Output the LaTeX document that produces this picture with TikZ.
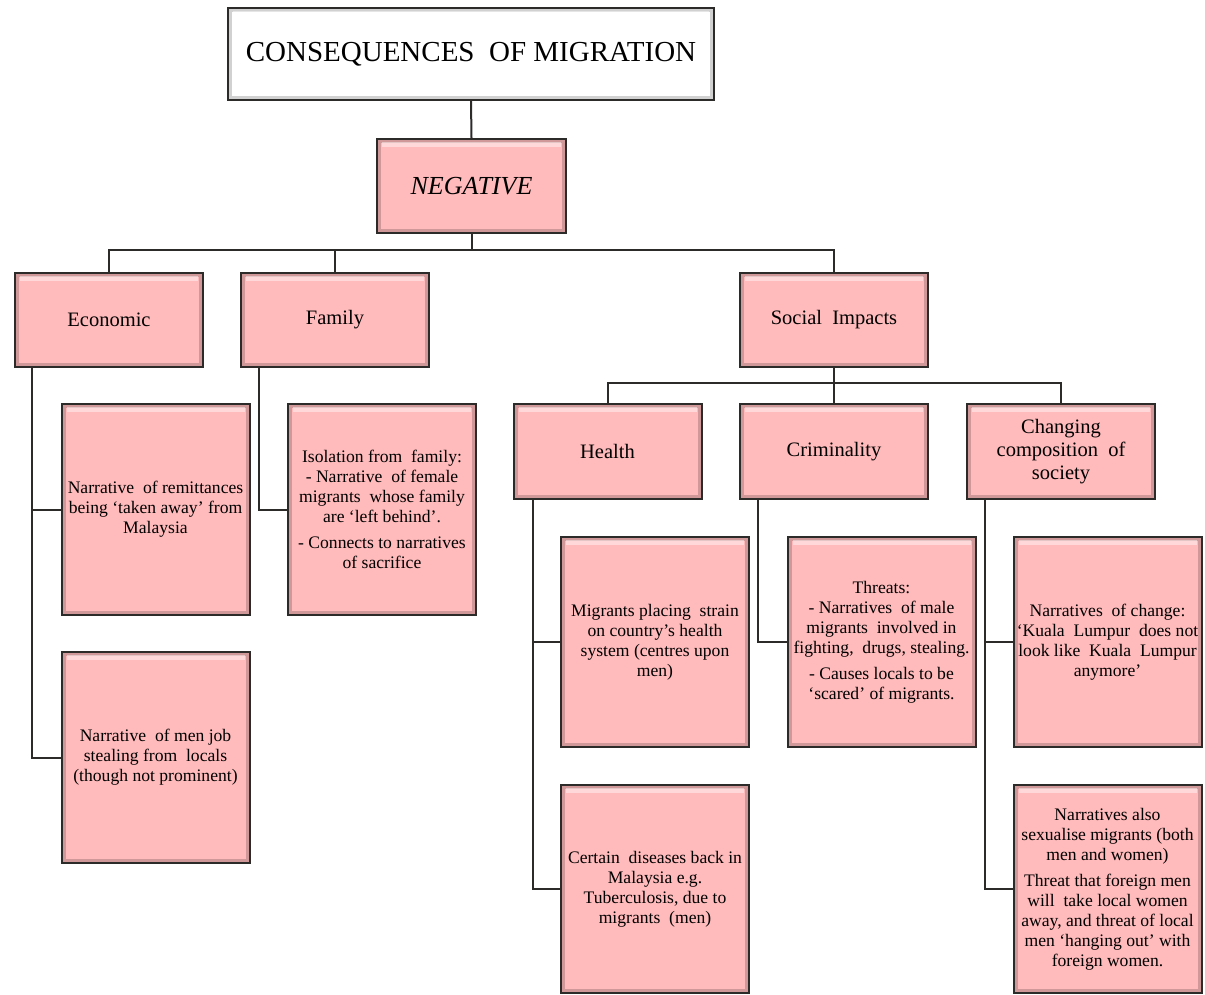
\documentclass[tikz,border=0pt]{standalone}
\usepackage{fontspec}
\setmainfont{Liberation Serif}
\definecolor{pinkfill}{RGB}{255,186,187}
\definecolor{edgecol}{RGB}{45,42,42}
\tikzset{
  bevel/.style={path picture={
    \draw[black,opacity=.18,line width=3pt]
      ([xshift=2.5pt,yshift=2.5pt]path picture bounding box.south west) rectangle
      ([xshift=-2.5pt,yshift=-2.5pt]path picture bounding box.north east);
    \fill[white,opacity=.45]
      ([xshift=5pt,yshift=-3pt]path picture bounding box.north west) rectangle
      ([xshift=-5pt,yshift=-8pt]path picture bounding box.north east);}},
  box/.style={draw=edgecol, line width=2pt, fill=pinkfill, align=center, inner sep=2pt, bevel},
  titlebox/.style={box, fill=white, minimum width=486pt, minimum height=92pt, font=\fontsize{29}{33}\selectfont},
  cat/.style={box, minimum width=188pt, minimum height=94pt, font=\fontsize{20.5}{23}\selectfont},
  leaf/.style={box, minimum width=188pt, minimum height=211pt, font=\fontsize{17.6}{20}\selectfont},
  conn/.style={draw=edgecol, line width=2pt}
}
\begin{document}
\begin{tikzpicture}[x=1pt,y=-1pt]
\useasboundingbox[fill=white] (0,0) rectangle (1205,995);
% top
\node[titlebox] (title) at (471,54) {CONSEQUENCES\ \ OF MIGRATION};
\node[cat, minimum width=189pt, font=\fontsize{26}{30}\selectfont\itshape] (neg) at (471.5,186) {NEGATIVE};
% level 2
\node[cat] (eco) at (109,319.5) {Economic};
\node[cat] (fam) at (335,319.5) {Family};
\node[cat] (soc) at (834,319.5) {Social\ \ Impacts};
% economic children
\node[leaf] (eco1) at (155.5,509.5) {Narrative\ \ of remittances\\being `taken away' from\\Malaysia};
\node[leaf] (eco2) at (155.5,757.5) {Narrative\ \ of men job\\stealing from\ \ locals\\(though not prominent)};
% family child
\node[leaf] (fam1) at (382,509.5) {Isolation from\ \ family:\\- Narrative\ \ of female\\migrants\ \ whose family\\are `left behind'.\\[6pt]- Connects to narratives\\of sacrifice};
% social level
\node[cat, minimum height=95pt] (hea) at (607.5,451.5) {Health};
\node[cat, minimum height=95pt] (cri) at (834,451.5) {Criminality};
\node[cat, minimum height=95pt] (chg) at (1061,451.5) {Changing\\composition\ \ of\\society};
% health children
\node[leaf, minimum height=210pt] (hea1) at (655,642) {Migrants placing\ \ strain\\on country's health\\system (centres upon\\men)};
\node[leaf, minimum height=208pt] (hea2) at (655,889) {Certain\ \ diseases back in\\Malaysia e.g.\\Tuberculosis, due to\\migrants\ \ (men)};
% criminality child
\node[leaf, minimum height=210pt] (cri1) at (881.5,642) {Threats:\\- Narratives\ \ of male\\migrants\ \ involved in\\fighting,\ \ drugs, stealing.\\[6pt]- Causes locals to be\\`scared' of migrants.};
% changing children
\node[leaf, minimum height=210pt] (chg1) at (1107.5,642) {Narratives\ \ of change:\\`Kuala\ \ Lumpur\ \ does not\\look like\ \ Kuala\ \ Lumpur\\anymore'};
\node[leaf, minimum height=208pt] (chg2) at (1107.5,889) {Narratives also\\sexualise migrants (both\\men and women)\\[6pt]Threat that foreign men\\will\ \ take local women\\away, and threat of local\\men `hanging out' with\\foreign women.};
% connectors: top
\coordinate (bus1) at (471.5,250);
\draw[conn] (title.south) -- (neg.north);
\draw[conn] (neg.south) -- (neg.south |- bus1);
\draw[conn] (eco.north) -- (eco.north |- bus1) -- (soc.north |- bus1) -- (soc.north);
\draw[conn] (fam.north) -- (fam.north |- bus1);
% social bus
\coordinate (bus2) at (834,383);
\draw[conn] (soc.south) -- (bus2);
\draw[conn] (hea.north) -- (hea.north |- bus2) -- (chg.north |- bus2) -- (chg.north);
\draw[conn] (cri.north) -- (cri.north |- bus2);
% elbows
\coordinate (ecoT) at ([xshift=18pt]eco.south west);
\draw[conn] (ecoT) |- (eco1.west);
\draw[conn] (ecoT) |- (eco2.west);
\coordinate (famT) at ([xshift=19pt]fam.south west);
\draw[conn] (famT) |- (fam1.west);
\coordinate (heaT) at ([xshift=20pt]hea.south west);
\draw[conn] (heaT) |- (hea1.west);
\draw[conn] (heaT) |- (hea2.west);
\coordinate (criT) at ([xshift=19pt]cri.south west);
\draw[conn] (criT) |- (cri1.west);
\coordinate (chgT) at ([xshift=19pt]chg.south west);
\draw[conn] (chgT) |- (chg1.west);
\draw[conn] (chgT) |- (chg2.west);
\end{tikzpicture}
\end{document}
